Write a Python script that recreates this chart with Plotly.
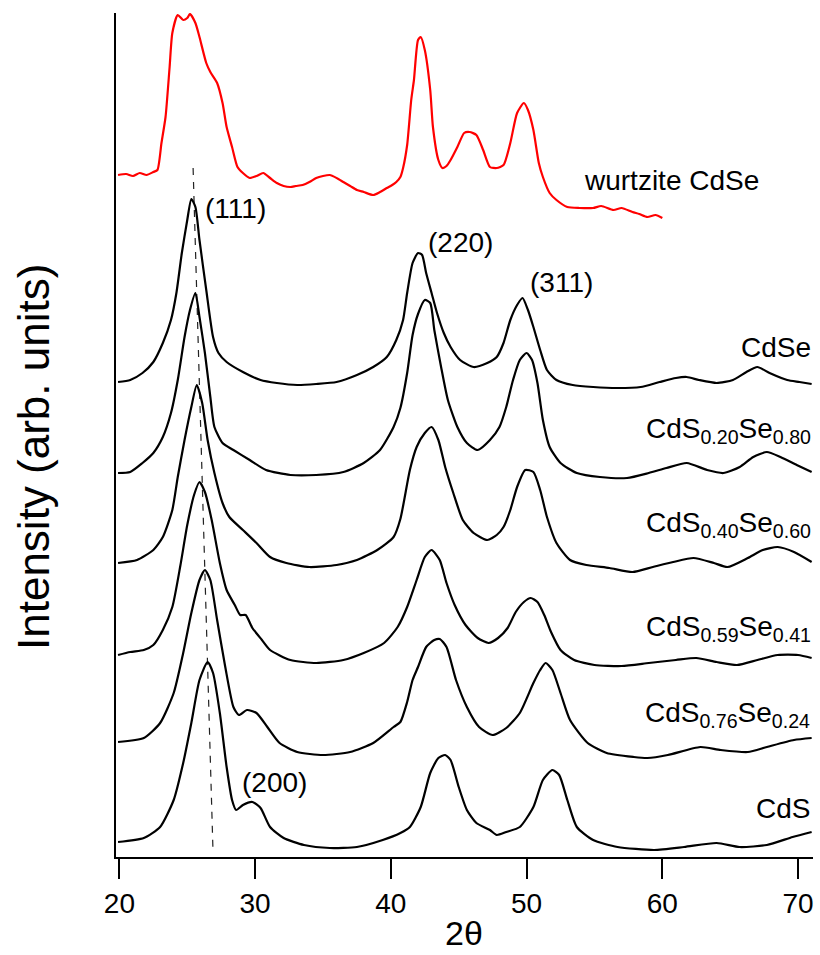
import plotly.graph_objects as go

# ---------------- data (2theta in degrees, intensity in arb. units incl. offsets) ----------------
wurtz_x = [19.9,20.5,21.0,21.5,22.0,22.5,22.8,23.1,23.4,23.7,23.9,24.3,24.7,25.0,25.2,25.6,25.9,26.4,26.7,27.2,
           27.6,27.9,28.3,28.7,29.1,29.6,30.1,30.6,31.1,31.6,32.1,32.6,33.0,33.5,34.0,34.5,35.0,35.5,36.0,36.5,
           37.0,37.5,38.0,38.7,39.2,39.7,40.1,40.4,40.7,40.9,41.2,41.5,41.7,42.0,42.2,42.5,42.9,43.1,43.5,43.8,
           44.1,44.4,44.9,45.4,45.8,46.3,46.8,47.3,47.8,48.3,48.8,49.3,49.8,50.1,50.5,50.9,51.2,51.7,52.2,53.0,
           53.9,54.9,55.5,56.4,57.0,57.8,58.3,58.9,59.5,60.0]
wurtz_y = [682,683,681,684,682,685,687,714,740,790,824,842,837,839,843,834,820,794,785,774,
           754,730,710,690,684,679,681,684,679,674,671,670,671,672,675,679,681,682,679,675,
           671,667,665,662,665,669,672,675,680,689,712,757,777,817,820,807,767,730,697,689,
           691,697,710,724,725,722,707,690,689,692,714,744,754,747,727,694,680,664,657,650,
           649,649,651,647,649,645,643,640,642,639]

cdse_x = [19.9,20.8,21.7,22.5,23.2,23.8,24.2,24.6,25.0,25.3,25.6,25.9,26.4,26.9,27.3,27.9,29.1,30.4,31.6,33.1,
          34.5,36.0,37.5,38.7,39.7,40.4,40.9,41.2,41.6,42.0,42.3,42.6,43.0,43.4,43.9,44.4,45.1,46.1,47.1,47.8,
          48.3,48.8,49.3,49.7,50.1,50.5,51.0,51.5,52.2,53.4,54.9,56.7,58.4,59.8,61.0,61.8,62.7,64.0,65.2,66.2,
          67.0,67.9,69.2,70.1,71.0]
cdse_y = [475,477,484,495,514,537,564,604,637,658,650,617,567,520,504,495,485,477,474,472,
          473,475,482,490,500,517,537,564,594,604,602,584,564,544,524,510,497,490,494,500,
          514,537,552,559,547,530,507,487,477,472,470,469,470,475,479,480,477,474,477,485,
          490,484,477,475,473]

s20_x = [19.9,20.8,21.7,22.5,23.2,23.8,24.3,24.8,25.2,25.6,25.9,26.3,26.7,27.0,27.6,28.4,29.6,30.8,32.6,34.5,
         36.5,38.0,39.2,40.2,40.7,41.2,41.6,42.0,42.5,42.9,43.2,43.7,44.2,44.9,45.6,46.4,47.3,48.0,48.5,49.0,
         49.5,50.0,50.4,50.8,51.2,51.7,52.5,53.7,55.4,57.4,59.0,60.3,61.8,63.3,64.5,65.7,66.7,67.7,68.7,69.9,
         71.0]
s20_y = [384,385,394,404,420,444,477,520,547,564,540,504,460,430,414,407,397,387,382,382,
         385,394,407,430,449,484,522,543,557,554,527,490,457,430,414,407,417,430,450,477,
         497,504,497,474,437,410,394,384,380,379,384,389,394,387,384,390,400,405,400,392,
         385]

s40_x = [19.9,21.3,22.5,23.2,23.9,24.3,24.8,25.3,25.7,26.1,26.5,27.0,27.6,28.1,29.1,30.1,31.1,32.3,34.0,36.0,
         37.5,39.0,40.2,40.7,41.4,41.9,42.5,43.0,43.5,44.0,44.6,45.3,46.1,47.1,47.8,48.3,48.8,49.3,49.9,50.5,
         51.0,51.5,52.2,53.2,54.4,56.1,57.8,59.3,60.8,62.3,63.8,64.8,66.3,67.4,68.5,69.7,71.0]
s40_y = [294,297,307,320,347,380,417,450,472,454,417,384,354,340,327,314,300,294,290,292,
         297,307,320,338,387,410,424,430,417,390,364,337,324,317,322,330,347,370,387,385,
         367,340,314,297,292,289,285,290,295,299,294,290,299,307,310,305,295]

s59_x = [19.9,20.8,21.8,22.5,23.2,23.9,24.5,25.0,25.5,25.9,26.3,26.8,27.4,27.9,28.5,28.9,29.3,29.8,30.5,31.1,
         32.6,34.5,36.5,38.0,39.5,40.5,41.2,41.9,42.5,43.0,43.6,44.1,44.7,45.5,46.4,47.2,47.9,48.6,49.2,49.8,
         50.3,50.8,51.3,51.8,52.5,53.5,55.0,57.0,59.0,61.0,62.5,64.0,65.5,67.0,68.5,70.0,71.0]
s59_y = [202,205,207,212,227,250,292,332,362,375,365,337,294,267,252,242,242,229,217,207,
         197,194,197,204,214,230,250,277,300,307,297,274,252,232,219,214,219,229,245,255,
         259,255,242,225,207,197,192,191,194,197,199,195,192,197,202,202,199]

s76_x = [19.9,21.8,23.0,24.0,24.7,25.3,25.9,26.3,26.7,27.2,27.8,28.4,28.8,29.4,30.1,30.9,31.8,33.1,35.0,37.0,
         38.7,40.2,40.7,41.2,41.6,42.0,42.6,43.2,43.6,44.1,44.8,45.6,46.5,47.5,48.5,49.5,50.5,51.0,51.4,51.9,
         52.5,53.2,54.5,55.9,57.9,58.9,60.4,62.8,64.3,66.3,67.7,69.7,71.0]
s76_y = [115,119,134,164,204,244,277,287,277,237,190,150,142,147,144,130,114,105,102,105,
         114,130,135,155,177,190,210,217,218,210,177,150,130,122,129,144,174,187,194,187,
         164,137,114,104,100,99,102,110,107,105,110,117,119]

cds_x = [19.9,21.8,23.0,24.0,24.7,25.3,25.9,26.5,26.9,27.4,27.9,28.3,28.6,29.1,29.8,30.4,31.1,32.1,33.6,35.5,
         37.5,39.4,40.7,41.4,42.2,42.9,43.5,44.0,44.4,45.0,45.6,46.3,47.3,47.8,48.5,49.5,50.5,51.2,51.9,52.4,
         53.0,53.7,54.9,56.7,59.4,61.6,64.0,65.7,67.7,69.6,71.0]
cds_y = [15,19,30,57,94,134,177,195,184,144,90,57,47,52,55,49,30,19,12,9,
         10,17,24,30,50,84,99,102,97,70,47,34,27,22,25,30,50,77,87,82,
         57,30,17,10,7,10,14,10,12,20,25]

guide_x = [25.43, 26.9]      # (111) peak shift guide
guide_y = [689, 4]

tick_vals = [20, 30, 40, 50, 60, 70]
tick_text = ["20", "30", "40", "50", "60", "70"]

# ---------------- figure ----------------
W, H = 820, 955
ML, MR, MT, MB = 116, 7, 13, 98
PW, PH = W - ML - MR, H - MT - MB
FONT = "Liberation Sans, Arial, sans-serif"


def xp(px):
    return (px - ML) / PW


def yp(py):
    return (MT + PH - py) / PH


fig = go.Figure()
fig.add_trace(go.Scatter(x=guide_x, y=guide_y, mode="lines",
                         line=dict(color="#222222", width=1.2, dash="7px,7px"),
                         hoverinfo="skip", showlegend=False))

series = [
    (wurtz_x, wurtz_y, "#ff0000"),
    (cdse_x, cdse_y, "#000000"),
    (s20_x, s20_y, "#000000"),
    (s40_x, s40_y, "#000000"),
    (s59_x, s59_y, "#000000"),
    (s76_x, s76_y, "#000000"),
    (cds_x, cds_y, "#000000"),
]
for xs, ys, col in series:
    fig.add_trace(go.Scatter(x=xs, y=ys, mode="lines",
                             line=dict(color=col, width=2.2, shape="spline", smoothing=0.6),
                             hoverinfo="skip", showlegend=False))

labels = [
    ("wurtzite CdSe", 582, 180, "left"),
    ("(111)", 203, 208, "left"),
    ("(220)", 426, 243, "left"),
    ("(311)", 528, 282, "left"),
    ("(200)", 240, 782, "left"),
    ("CdSe", 813, 348, "right"),
    ("CdS<sub>0.20</sub>Se<sub>0.80</sub>", 813, 431, "right"),
    ("CdS<sub>0.40</sub>Se<sub>0.60</sub>", 813, 524, "right"),
    ("CdS<sub>0.59</sub>Se<sub>0.41</sub>", 813, 628, "right"),
    ("CdS<sub>0.76</sub>Se<sub>0.24</sub>", 812, 714, "right"),
    ("CdS", 812, 808, "right"),
]
for txt, px, py, anc in labels:
    fig.add_annotation(text=txt, x=xp(px), y=yp(py), xref="paper", yref="paper",
                       xanchor=anc, yanchor="middle", showarrow=False,
                       font=dict(family=FONT, size=28, color="black"))

# axis titles
fig.add_annotation(text="Intensity (arb. units)", x=xp(33), y=yp(457), xref="paper", yref="paper",
                   textangle=-90, xanchor="center", yanchor="middle", showarrow=False,
                   font=dict(family=FONT, size=44, color="black"))
fig.add_annotation(text="2θ", x=xp(464), y=yp(933), xref="paper", yref="paper",
                   xanchor="center", yanchor="middle", showarrow=False,
                   font=dict(family=FONT, size=34, color="black"))

fig.update_layout(
    width=W, height=H,
    margin=dict(l=ML, r=MR, t=MT, b=MB, pad=0),
    paper_bgcolor="white", plot_bgcolor="white",
    showlegend=False,
    xaxis=dict(range=[19.75, 71.1], tickmode="array", tickvals=tick_vals, ticktext=tick_text,
               ticks="outside", ticklen=20, tickwidth=2, tickcolor="black",
               showline=True, linecolor="black", linewidth=2,
               showgrid=False, zeroline=False,
               tickfont=dict(family=FONT, size=28, color="black")),
    yaxis=dict(range=[0, PH], showticklabels=False, ticks="",
               showline=True, linecolor="black", linewidth=2,
               showgrid=False, zeroline=False),
)

fig.write_html("out.html")
